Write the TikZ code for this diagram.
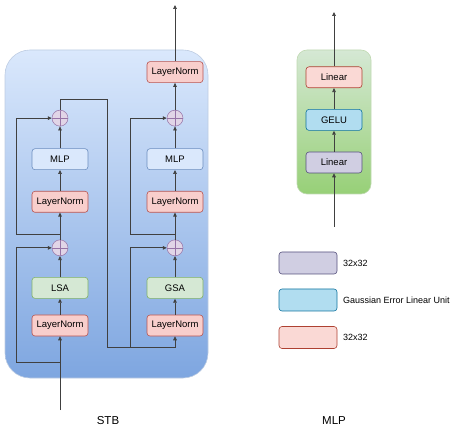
\documentclass[tikz,border=0pt]{standalone}
\usepackage{fontspec}
\setsansfont{Liberation Sans}
\usepackage{tikz}
\usetikzlibrary{positioning, arrows.meta, calc}

\definecolor{lnfill}{HTML}{F8CECC}
\definecolor{lndraw}{HTML}{B85450}
\definecolor{safill}{HTML}{D5E8D4}
\definecolor{sadraw}{HTML}{82B366}
\definecolor{mlpfill}{HTML}{DAE8FC}
\definecolor{mlpdraw}{HTML}{6C8EBF}
\definecolor{addfill}{HTML}{E1D5E7}
\definecolor{adddraw}{HTML}{9673A6}
\definecolor{linfill}{HTML}{D0CEE2}
\definecolor{lindraw}{HTML}{56517E}
\definecolor{gelufill}{HTML}{B1DDF0}
\definecolor{geludraw}{HTML}{10739E}
\definecolor{outfill}{HTML}{FAD9D5}
\definecolor{outdraw}{HTML}{AE4132}
\definecolor{stbtop}{HTML}{DAE8FC}
\definecolor{stbbot}{HTML}{7EA6E0}
\definecolor{mlptop}{HTML}{D5E8D4}
\definecolor{mlpbot}{HTML}{97D077}

\begin{document}
\begin{tikzpicture}[
    x=1pt, y=-1pt,
    blockbox/.style={
        rectangle,
        rounded corners=3pt,
        line width=0.6pt,
        minimum width=56pt,
        minimum height=21pt,
        inner sep=0pt,
        align=center,
        font=\sffamily\fontsize{9.5}{11}\selectfont
    },
    normbox/.style={blockbox, fill=lnfill, draw=lndraw},
    attnbox/.style={blockbox, fill=safill, draw=sadraw},
    mlpbox/.style={blockbox, fill=mlpfill, draw=mlpdraw},
    addop/.style={
        circle, draw=adddraw, fill=addfill, line width=0.5pt,
        minimum size=16pt, inner sep=0pt,
        path picture={
            \draw[adddraw, line width=0.5pt]
                (path picture bounding box.north) -- (path picture bounding box.south)
                (path picture bounding box.west) -- (path picture bounding box.east);
        }
    },
    arr/.style={-{Triangle[length=4pt,width=3.6pt]}, line width=0.7pt, black!75},
    legtext/.style={anchor=west, inner sep=0pt, font=\sffamily\fontsize{9}{11}\selectfont}
]
    \useasboundingbox (0,0) rectangle (452,435);

    % Containers
    \node[rectangle, rounded corners=25pt, top color=stbtop, bottom color=stbbot,
          draw=mlpdraw!45, line width=0.6pt,
          minimum width=203pt, minimum height=328pt] (stb) at (106.5,214) {};
    \node[rectangle, rounded corners=10pt, top color=mlptop, bottom color=mlpbot,
          draw=sadraw!50, line width=0.6pt,
          minimum width=74pt, minimum height=144pt] (mlpc) at (334,122) {};

    % Left column
    \node[normbox] (ln1) at (60,325.5) {LayerNorm};
    \node[attnbox, above=16pt of ln1] (lsa) {LSA};
    \node[addop, above=21pt of lsa] (add1) {};
    \node[normbox, above=27pt of add1] (ln2) {LayerNorm};
    \node[mlpbox, above=21pt of ln2] (mlp1) {MLP};
    \node[addop, above=22pt of mlp1] (add2) {};

    % Right column
    \node[normbox] (ln3) at (175,325.5) {LayerNorm};
    \node[attnbox, above=16pt of ln3] (gsa) {GSA};
    \node[addop, above=21pt of gsa] (add3) {};
    \node[normbox, above=27pt of add3] (ln4) {LayerNorm};
    \node[mlpbox, above=21pt of ln4] (mlp2) {MLP};
    \node[addop, above=22pt of mlp2] (add4) {};
    \node[normbox, above=27pt of add4] (ln5) {LayerNorm};

    % MLP block
    \node[blockbox, fill=linfill, draw=lindraw] (lin1) at (334,162.5) {Linear};
    \node[blockbox, fill=gelufill, draw=geludraw, above=21pt of lin1] (gelu) {GELU};
    \node[blockbox, fill=outfill, draw=outdraw, above=21pt of gelu] (lin2) {Linear};

    % Legend
    \node[blockbox, fill=linfill, draw=lindraw, minimum width=58pt, minimum height=22pt] (key1) at (308,263) {};
    \node[blockbox, fill=gelufill, draw=geludraw, minimum width=58pt, minimum height=22pt] (key2) at (308,300) {};
    \node[blockbox, fill=outfill, draw=outdraw, minimum width=58pt, minimum height=22pt] (key3) at (308,337.5) {};
    \node[legtext] (lab1) at (343,263) {32x32};
    \node[legtext] (lab2) at (343,300) {Gaussian Error Linear Unit};
    \node[legtext] (lab3) at (343,337.5) {32x32};

    % Titles
    \node[font=\sffamily\fontsize{11.5}{13}\selectfont] (stbname) at (108,421) {STB};
    \node[font=\sffamily\fontsize{11.5}{13}\selectfont] (mlpname) at (334,421) {MLP};

    % Free ends and branch points
    \coordinate (inL) at (60,410);
    \coordinate (br1) at (60,362);
    \coordinate (br2) at (60,234);
    \coordinate (cross) at (107,347);
    \coordinate (br3) at (130,347);
    \coordinate (br4) at (175,234);
    \coordinate (outL) at (175,5);
    \coordinate (inM) at (334,227);
    \coordinate (outM) at (334,12);

    % Arrows, left column
    \draw[arr] (inL) -- (ln1);
    \draw[arr] (ln1) -- (lsa);
    \draw[arr] (lsa) -- (add1);
    \draw[arr] (br1) -- ++(-44,0) |- (add1.west);
    \draw[arr] (add1) -- (ln2);
    \draw[arr] (br2) -- ++(-44,0) |- (add2.west);
    \draw[arr] (ln2) -- (mlp1);
    \draw[arr] (mlp1) -- (add2);
    \draw[arr] (add2.north) -- ++(0,-11) -| (cross) -| (ln3.south);

    % Arrows, right column
    \draw[arr] (br3) |- (add3.west);
    \draw[arr] (ln3) -- (gsa);
    \draw[arr] (gsa) -- (add3);
    \draw[arr] (add3) -- (ln4);
    \draw[arr] (br4) -- ++(-45,0) |- (add4.west);
    \draw[arr] (ln4) -- (mlp2);
    \draw[arr] (mlp2) -- (add4);
    \draw[arr] (add4) -- (ln5);
    \draw[arr] (ln5) -- (outL);

    % Arrows, MLP
    \draw[arr] (inM) -- (lin1);
    \draw[arr] (lin1) -- (gelu);
    \draw[arr] (gelu) -- (lin2);
    \draw[arr] (lin2) -- (outM);
\end{tikzpicture}
\end{document}
